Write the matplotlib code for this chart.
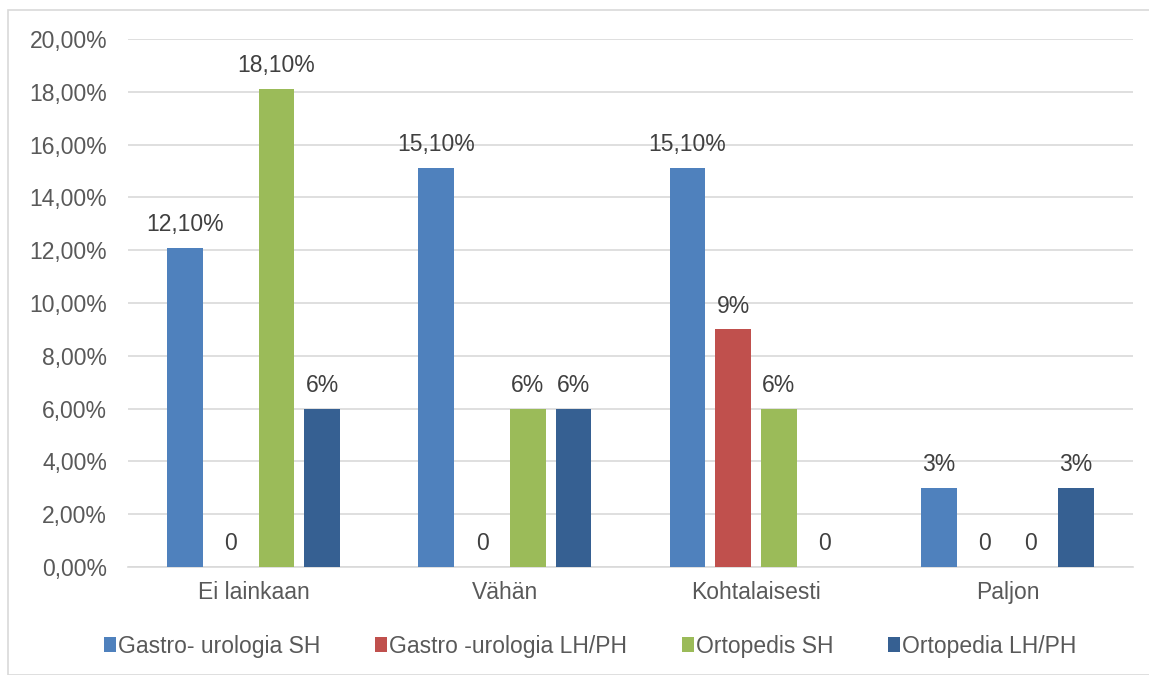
import matplotlib.pyplot as plt
import numpy as np
from matplotlib.patches import Rectangle

plt.rcParams['font.family'] = ['Liberation Sans', 'DejaVu Sans']

categories = ['Ei lainkaan', 'Vähän', 'Kohtalaisesti', 'Paljon']
series = ['Gastro- urologia SH', 'Gastro -urologia LH/PH', 'Ortopedis SH', 'Ortopedia LH/PH']
values = [
    [12.1, 15.1, 15.1, 3.0],
    [0.0, 0.0, 9.0, 0.0],
    [18.1, 6.0, 6.0, 0.0],
    [6.0, 6.0, 0.0, 3.0],
]
labels = [
    ['12,10%', '15,10%', '15,10%', '3%'],
    ['0', '0', '9%', '0'],
    ['18,10%', '6%', '6%', '0'],
    ['6%', '6%', '0', '3%'],
]
colors = ['#4F81BD', '#C0504D', '#9BBB59', '#366092']
yticks = np.arange(0, 21, 2)
ytick_labels = [f'{v:.2f}%'.replace('.', ',') for v in yticks]

text_color = '#595959'
grid_color = '#D9D9D9'

fig = plt.figure(figsize=(11.49, 6.75), dpi=100)
fig.patches.append(Rectangle((8 / 1149, 0.0), 1.0, 1 - 10 / 675, transform=fig.transFigure,
                             fill=False, edgecolor=grid_color, linewidth=1.2))
ax = fig.add_axes([128 / 1149, 1 - 567 / 675, (1133 - 128) / 1149, (567 - 39) / 675])

x = np.arange(len(categories))
pitch = 0.182
width = 0.143
for i, (vals, labs, col, name) in enumerate(zip(values, labels, colors, series)):
    pos = x + (i - 1.5) * pitch
    ax.bar(pos, vals, width=width, color=col, label=name, zorder=3)
    for p, v, lab in zip(pos, vals, labs):
        ax.text(p, v + 0.45, lab, ha='center', va='bottom', fontsize=16.5, color='#404040')

ax.set_xlim(-0.5, len(categories) - 0.5)
ax.set_ylim(0, 20)
ax.set_yticks(yticks)
ax.set_yticklabels(ytick_labels)
ax.set_xticks(x)
ax.set_xticklabels(categories)
ax.tick_params(axis='both', length=0, labelsize=16.5, colors=text_color, pad=10)
ax.tick_params(axis='y', pad=15)
ax.grid(axis='y', color=grid_color, linewidth=1.2, zorder=0)
for s in ['top', 'right', 'left']:
    ax.spines[s].set_visible(False)
ax.spines['bottom'].set_color(grid_color)
ax.spines['bottom'].set_linewidth(1.2)

ax.legend(loc='center', bbox_to_anchor=(0.46, -0.15), ncol=4, frameon=False,
          fontsize=16.5, labelcolor=text_color, handlelength=0.5, handleheight=0.6,
          handletextpad=0.1, columnspacing=2.4)

fig.savefig('out.png', dpi=100)
